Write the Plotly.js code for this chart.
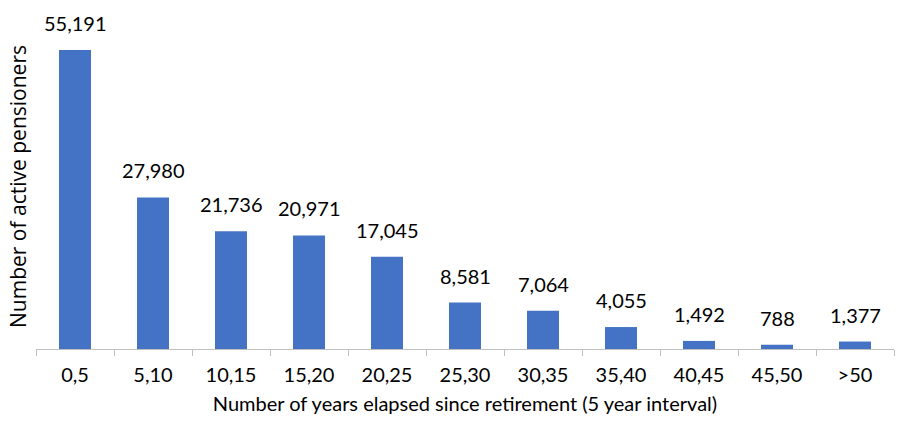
<!DOCTYPE html>
<html>
<head>
<meta charset="utf-8">
<script src="https://cdn.plot.ly/plotly-3.0.1.min.js"></script>
<style>
  html, body { margin: 0; padding: 0; background: #fff; }
  #chart { width: 899px; height: 430px; }
</style>
</head>
<body>
<div id="chart"></div>
<script>
// Przedziały lat od przejścia na emeryturę
const intervals = ['0,5', '5,10', '10,15', '15,20', '20,25', '25,30', '30,35', '35,40', '40,45', '45,50', '>50'];
// Liczba aktywnych emerytów
const pensioners = [55191, 27980, 21736, 20971, 17045, 8581, 7064, 4055, 1492, 788, 1377];

const data = [{
  type: 'bar',
  x: intervals,
  y: pensioners,
  marker: { color: '#4472C4' },
  hoverinfo: 'x+y'
}];

// Etykiety wartości nad słupkami (z odstępem jak w oryginale)
const labels = intervals.map((c, i) => ({
  x: c,
  y: pensioners[i],
  text: pensioners[i].toLocaleString('en-US'),
  showarrow: false,
  yanchor: 'bottom',
  yshift: 13,
  font: { size: 20, color: '#000' }
}));

const layout = {
  width: 899,
  height: 430,
  margin: { t: 24, r: 5, b: 81, l: 36 },
  font: { family: 'Lato, "Open Sans", sans-serif', size: 20, color: '#000' },
  bargap: 0.59,
  showlegend: false,
  annotations: labels,
  xaxis: {
    type: 'category',
    title: { text: 'Number of years elapsed since retirement (5 year interval)', font: { size: 20 }, standoff: 11 },
    showline: true,
    linecolor: '#bfbfbf',
    ticks: 'outside',
    tickson: 'boundaries',
    ticklen: 6,
    tickcolor: '#bfbfbf',
    tickfont: { size: 20 },
    ticklabelstandoff: 8,
    showgrid: false
  },
  yaxis: {
    title: { text: 'Number of active pensioners', font: { family: '"Open Sans", sans-serif', size: 21 }, standoff: 2 },
    range: [0, 60000],
    showgrid: false,
    zeroline: false,
    showticklabels: false,
    showline: false
  },
  plot_bgcolor: '#fff',
  paper_bgcolor: '#fff'
};

Plotly.newPlot('chart', data, layout, { displayModeBar: false });
</script>
</body>
</html>
